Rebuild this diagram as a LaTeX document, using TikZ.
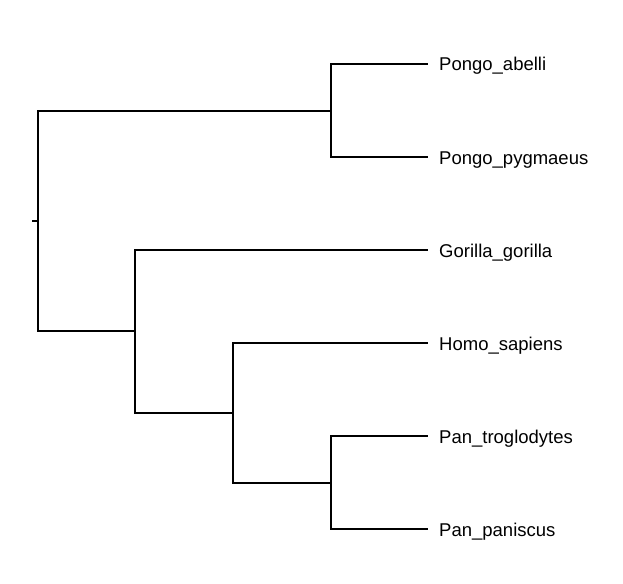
\documentclass[tikz,border=0pt]{standalone}
\usepackage{fontspec}
\newfontfamily\tipfont{Liberation Sans}
\usetikzlibrary{positioning}

\begin{document}
\begin{tikzpicture} [
	x=1pt, y=-1pt,
	node distance = 11pt,
	tiplabel/.style = {
		font=\tipfont\fontsize{18.5}{21}\selectfont,
		inner sep=0pt,
		anchor=base west,
		yshift=-7pt
	},
	branch/.style = {draw, line width=1.8pt}
]
\useasboundingbox (0,0) rectangle (623,583);

% inner nodes of the tree
\coordinate (stub) at (32,221);
\coordinate (root) at (38,221);
\coordinate (pongo) at (331,111);
\coordinate (afr) at (135,331);
\coordinate (homopan) at (233,413);
\coordinate (pan) at (331,483);

% tips
\coordinate (tabelli) at (428,64);
\coordinate (tpygmaeus) at (428,157);
\coordinate (tgorilla) at (428,250);
\coordinate (tsapiens) at (428,343);
\coordinate (ttrog) at (428,436);
\coordinate (tpaniscus) at (428,529);

\node (abelli) [right=of tabelli, tiplabel] {Pongo\_abelli};
\node (pygmaeus) [right=of tpygmaeus, tiplabel] {Pongo\_pygmaeus};
\node (gorilla) [right=of tgorilla, tiplabel] {Gorilla\_gorilla};
\node (sapiens) [right=of tsapiens, tiplabel] {Homo\_sapiens};
\node (trog) [right=of ttrog, tiplabel] {Pan\_troglodytes};
\node (paniscus) [right=of tpaniscus, tiplabel] {Pan\_paniscus};

\draw [branch] (stub) -- (root);
\draw [branch] (root) |- (pongo);
\draw [branch] (root) |- (afr);
\draw [branch] (pongo) |- (tabelli);
\draw [branch] (pongo) |- (tpygmaeus);
\draw [branch] (afr) |- (tgorilla);
\draw [branch] (afr) |- (homopan);
\draw [branch] (homopan) |- (tsapiens);
\draw [branch] (homopan) |- (pan);
\draw [branch] (pan) |- (ttrog);
\draw [branch] (pan) |- (tpaniscus);

\end{tikzpicture}
\end{document}
